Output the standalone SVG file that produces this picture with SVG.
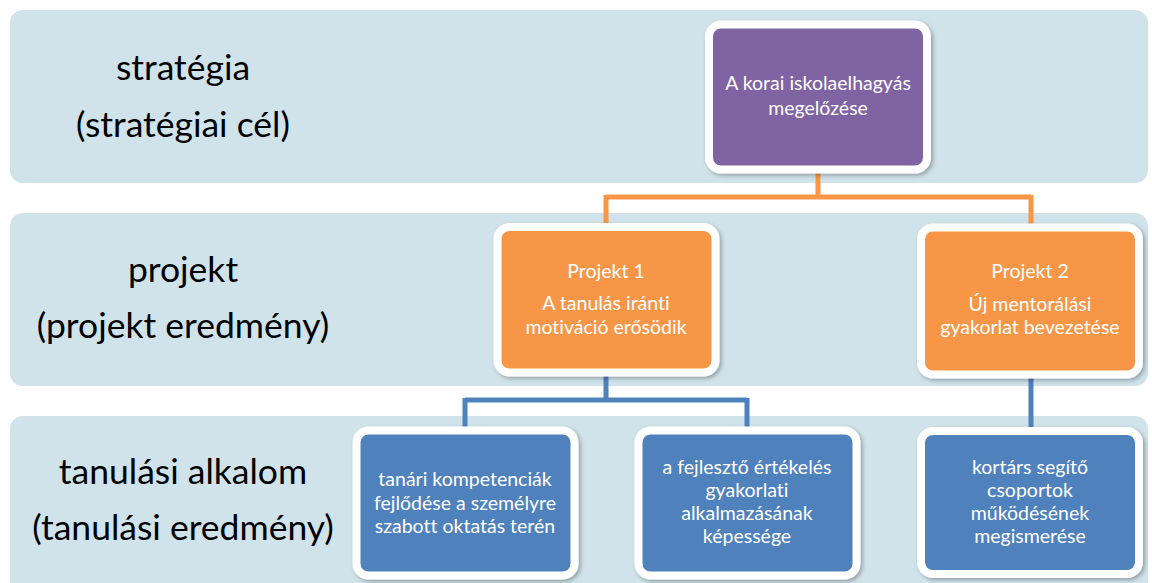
<svg xmlns="http://www.w3.org/2000/svg" width="1152" height="583" viewBox="0 0 1152 583">
<defs>
<filter id="sh" x="-10%" y="-10%" width="125%" height="125%">
<feDropShadow dx="2" dy="2" stdDeviation="2" flood-color="#000" flood-opacity="0.3"/>
</filter>
</defs>
<style>
.band{fill:#D0E3EA}
text{font-variant-ligatures:none;font-feature-settings:"liga" 0}
.lbl{font-family:Lato,"Liberation Sans",sans-serif;font-size:35.5px;fill:#000;text-anchor:middle}
.nt{font-family:Lato,"Liberation Sans",sans-serif;font-size:19.5px;fill:#fff;text-anchor:middle}
.node{stroke:#fff;stroke-width:8;filter:url(#sh)}
.purple{fill:#8064A2}
.orange{fill:#F79646}
.blue{fill:#4F81BD}
.co{fill:none;stroke:#F79646;stroke-width:5}
.cb{fill:none;stroke:#4F81BD;stroke-width:5}
</style>
<rect width="1152" height="583" fill="#fff"/>
<g id="bands">
<rect class="band" x="10" y="10" width="1138" height="173" rx="13"/>
<rect class="band" x="10" y="213" width="1138" height="173" rx="13"/>
<rect class="band" x="10" y="416" width="1138" height="180" rx="13"/>
<text class="lbl" x="183" y="80">stratégia</text>
<text class="lbl" x="183" y="137">(stratégiai cél)</text>
<text class="lbl" x="183" y="282">projekt</text>
<text class="lbl" x="183" y="338">(projekt eredmény)</text>
<text class="lbl" x="183" y="484">tanulási alkalom</text>
<text class="lbl" x="183" y="540">(tanulási eredmény)</text>
</g>
<g id="connectors">
<path class="co" d="M818 170 V197 M606 197 H1031 M606 195 V227 M1031 195 V227"/>
<path class="cb" d="M606 374 V400 M465 400 H747 M465 398 V430 M747 398 V430 M1031 376 V430"/>
</g>
<g id="n-strategy">
<rect class="node purple" x="709" y="24.5" width="218" height="145" rx="12"/>
<text class="nt" x="818" y="90">A korai iskolaelhagyás</text>
<text class="nt" x="818" y="115">megelőzése</text>
</g>
<g id="n-projekt1">
<rect class="node orange" x="497.5" y="227" width="218" height="145.5" rx="12"/>
<text class="nt" x="606" y="278">Projekt 1</text>
<text class="nt" x="606" y="310">A tanulás iránti</text>
<text class="nt" x="606" y="334">motiváció erősödik</text>
</g>
<g id="n-projekt2">
<rect class="node orange" x="921" y="227.5" width="218" height="147" rx="12"/>
<text class="nt" x="1030" y="278">Projekt 2</text>
<text class="nt" x="1030" y="311">Új mentorálási</text>
<text class="nt" x="1030" y="334">gyakorlat bevezetése</text>
</g>
<g id="n-learn1">
<rect class="node blue" x="356.5" y="430.5" width="218" height="145" rx="12"/>
<text class="nt" x="465" y="486">tanári kompetenciák</text>
<text class="nt" x="465" y="510">fejlődése a személyre</text>
<text class="nt" x="465" y="533">szabott oktatás terén</text>
</g>
<g id="n-learn2">
<rect class="node blue" x="638.5" y="430.5" width="218" height="145" rx="12"/>
<text class="nt" x="747" y="474">a fejlesztő értékelés</text>
<text class="nt" x="747" y="497">gyakorlati</text>
<text class="nt" x="747" y="520">alkalmazásának</text>
<text class="nt" x="747" y="543">képessége</text>
</g>
<g id="n-learn3">
<rect class="node blue" x="921" y="431" width="218" height="143" rx="12"/>
<text class="nt" x="1030" y="474">kortárs segítő</text>
<text class="nt" x="1030" y="497">csoportok</text>
<text class="nt" x="1030" y="520">működésének</text>
<text class="nt" x="1030" y="543">megismerése</text>
</g>
</svg>
